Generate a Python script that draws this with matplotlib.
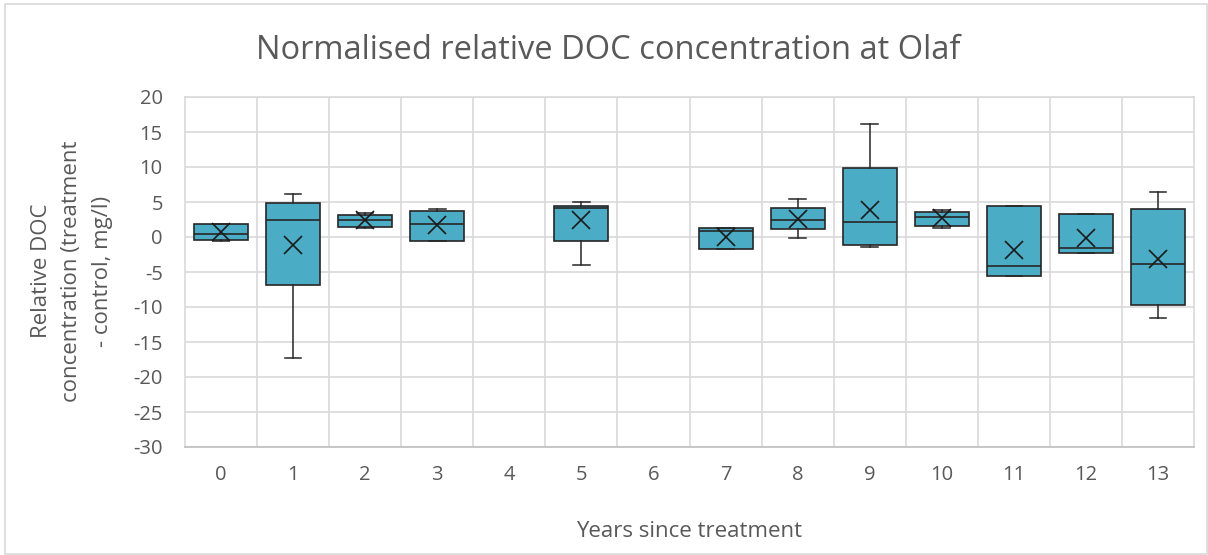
#Box plot of normalised relative DOC at Olaf, Excel style

import numpy as np
import matplotlib
matplotlib.use('Agg')
import matplotlib.pyplot as plt

#years on the axis (4 and 6 have no data)
years = list(range(14))
#five number summaries, plus the mean
whis_lo = [-0.5, -17.3, 1.3, -0.6, None, -4.0, None, -1.7, -0.2, -1.4, 1.3, -5.6, -2.3, -11.5]
q1      = [-0.4, -6.9, 1.5, -0.5, None, -0.6, None, -1.7, 1.2, -1.1, 1.6, -5.6, -2.3, -9.7]
med     = [0.4, 2.5, 2.5, 1.9, None, 4.1, None, 0.8, 2.5, 2.1, 2.9, -4.1, -1.5, -3.8]
q3      = [1.9, 4.8, 3.2, 3.7, None, 4.4, None, 1.3, 4.1, 9.8, 3.6, 4.5, 3.3, 4.0]
whis_hi = [1.9, 6.1, 3.5, 4.0, None, 5.0, None, 1.3, 5.5, 16.2, 3.9, 4.5, 3.3, 6.5]
means   = [0.7, -1.2, 2.4, 1.7, None, 2.4, None, 0.0, 2.6, 3.9, 2.7, -1.8, -0.2, -3.2]

text_col = '#595959'
plt.rcParams['font.family'] = ['Open Sans', 'DejaVu Sans']
plt.rcParams['axes.unicode_minus'] = False

fig = plt.figure(figsize=(12.08, 5.55), dpi=100)
ax = fig.add_axes([185/1208, 1-447/555, (1194-185)/1208, (447-97)/555])

#build the stats list for bxp
stats = []
pos = []
for i in years:
    if med[i] is None:
        continue
    stats.append({'whislo': whis_lo[i], 'q1': q1[i], 'med': med[i], 'q3': q3[i],
                  'whishi': whis_hi[i], 'mean': means[i], 'fliers': []})
    pos.append(i)

ax.bxp(stats, positions=pos, widths=0.75, capwidths=0.23, patch_artist=True,
       showmeans=True, showfliers=False,
       boxprops=dict(facecolor='#4BACC6', edgecolor='#262626', linewidth=1.2),
       medianprops=dict(color='#262626', linewidth=1.2),
       whiskerprops=dict(color='#262626', linewidth=1.1),
       capprops=dict(color='#262626', linewidth=1.1),
       meanprops=dict(marker='x', markeredgecolor='#1a1a1a', markersize=13, markeredgewidth=1.2))

ax.set_ylim(-30, 20)
ax.set_yticks(np.arange(-30, 21, 5))
ax.set_xlim(-0.5, 13.5)
ax.set_xticks(years)
ax.set_xticklabels([str(y) for y in years])
#vertical grid sits between the categories
ax.set_xticks(np.arange(0.5, 13, 1), minor=True)
ax.grid(axis='y', color='#d9d9d9', linewidth=1.2)
ax.grid(axis='x', which='minor', color='#d9d9d9', linewidth=1.2)
ax.set_axisbelow(True)
ax.tick_params(which='both', length=0, labelsize=14.5, labelcolor=text_col)
ax.tick_params(axis='x', pad=13)
ax.tick_params(axis='y', pad=16)
for s in ['left', 'right', 'top']:
    ax.spines[s].set_color('#d9d9d9')
    ax.spines[s].set_linewidth(1.2)
ax.spines['bottom'].set_color('#bfbfbf')
ax.spines['bottom'].set_linewidth(1.2)

fig.text(608/1208, 1-59/555, 'Normalised relative DOC concentration at Olaf',
         ha='center', va='baseline', fontsize=23.5, color=text_col)
fig.text(689/1208, 1-537/555, 'Years since treatment', ha='center', va='baseline',
         fontsize=16, color=text_col)
fig.text(72/1208, 1-271/555, 'Relative DOC\nconcentration (treatment\n- control, mg/l)',
         ha='center', va='center', rotation=90, fontsize=16, color=text_col,
         linespacing=1.6)

#light chart border like the excel chart area
fig.add_artist(plt.Rectangle((5/1208, 1/555), 1-6/1208, 1-5/555, transform=fig.transFigure,
                             fill=False, edgecolor='#d9d9d9', linewidth=1.2))

fig.savefig('out.png', dpi=100)
